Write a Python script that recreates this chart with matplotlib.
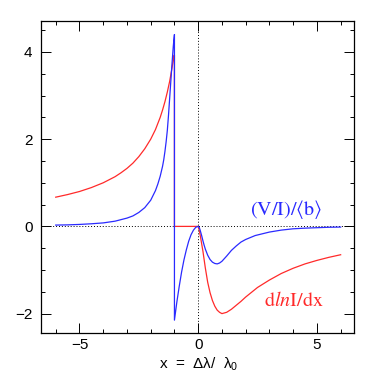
import matplotlib
matplotlib.use("Agg")
import matplotlib.pyplot as plt
from matplotlib.ticker import MultipleLocator

plt.rcParams['font.family'] = ['Liberation Sans', 'DejaVu Sans']
plt.rcParams['mathtext.fontset'] = 'stix'

# red curve: d ln I / dx
red_x = [-6.0, -5.5, -5.0, -4.5, -4.0, -3.5, -3.25, -3.0, -2.75, -2.5, -2.25, -2.0,
         -1.8, -1.6, -1.5, -1.4, -1.3, -1.2, -1.1, -1.05, -1.02, -1.0, -1.0,
         0.0, 0.05, 0.1, 0.2, 0.3, 0.4, 0.5, 0.6, 0.7, 0.8, 0.9, 1.0, 1.2, 1.4,
         1.6, 1.8, 2.0, 2.5, 3.0, 3.5, 4.0, 4.5, 5.0, 5.5, 6.0]
red_y = [0.67, 0.73, 0.80, 0.89, 1.0, 1.14, 1.23, 1.33, 1.45, 1.6, 1.78, 2.0,
         2.22, 2.5, 2.67, 2.86, 3.08, 3.33, 3.64, 3.81, 3.92, 3.93, 0.0,
         0.0, -0.1, -0.25, -0.57, -0.95, -1.28, -1.52, -1.70, -1.83, -1.92,
         -1.97, -2.0, -1.97, -1.90, -1.81, -1.72, -1.62, -1.40, -1.23, -1.08,
         -0.96, -0.86, -0.78, -0.71, -0.65]

# blue curve: (V/I)/<b>
blue_x = [-6.0, -5.5, -5.0, -4.5, -4.0, -3.5, -3.0, -2.75, -2.5, -2.25, -2.0, -1.8,
          -1.7, -1.6, -1.5, -1.45, -1.4, -1.35, -1.3, -1.25, -1.2, -1.15, -1.1,
          -1.05, -1.02, -1.0, -1.0,
          -0.9, -0.8, -0.7, -0.6, -0.5, -0.4, -0.3, -0.2, -0.1, 0.0,
          0.05, 0.1, 0.15, 0.2, 0.25, 0.3, 0.4, 0.5, 0.6, 0.7, 0.8, 0.9, 1.0,
          1.2, 1.4, 1.6, 1.8, 2.0, 2.4, 3.0, 3.5, 4.0, 4.5, 5.0, 5.5, 6.0]
blue_y = [0.03, 0.035, 0.045, 0.06, 0.08, 0.12, 0.19, 0.24, 0.32, 0.43, 0.6, 0.82,
          0.97, 1.15, 1.38, 1.53, 1.72, 1.94, 2.2, 2.55, 2.95, 3.35, 3.75,
          4.12, 4.3, 4.4, -2.15,
          -1.74, -1.38, -1.05, -0.77, -0.54, -0.34, -0.19, -0.086, -0.02, 0.0,
          -0.03, -0.12, -0.22, -0.33, -0.43, -0.52, -0.66, -0.76, -0.82, -0.85,
          -0.86, -0.84, -0.80, -0.68, -0.55, -0.45, -0.36, -0.30, -0.21, -0.13,
          -0.085, -0.055, -0.04, -0.03, -0.02, -0.015]

red = '#ff2a2a'
blue = '#2a2aff'

fig = plt.figure(figsize=(3.74, 3.74), dpi=100)
ax = fig.add_axes([0.109, 0.109, 0.838, 0.836])

ax.axhline(0, color='black', lw=0.7, ls=(0, (1, 2)))
ax.axvline(0, color='black', lw=0.7, ls=(0, (1, 2)))

ax.plot(red_x, red_y, color=red, lw=0.9)
ax.plot(blue_x, blue_y, color=blue, lw=0.9)

ax.text(3.7, 0.39, r'$\mathrm{(V/I)/}\langle\mathrm{b}\rangle$', color=blue,
        fontsize=14.5, ha='center', va='center')
ax.text(4.02, -1.69, r'$\mathrm{d}\mathit{ln}\mathrm{I/dx}$', color=red,
        fontsize=14.5, ha='center', va='center')

ax.set_xlim(-6.63, 6.57)
ax.set_ylim(-2.45, 4.72)
ax.xaxis.set_major_locator(MultipleLocator(5))
ax.xaxis.set_minor_locator(MultipleLocator(1))
ax.yaxis.set_major_locator(MultipleLocator(2))
ax.yaxis.set_minor_locator(MultipleLocator(0.5))
ax.tick_params(which='both', direction='in', top=True, right=True, width=0.7,
               labelsize=11)
ax.tick_params(axis='x', pad=3.5)
ax.tick_params(axis='y', pad=6)
ax.tick_params(which='major', length=7)
ax.tick_params(which='minor', length=3.2)
for s in ax.spines.values():
    s.set_linewidth(0.9)

fig.text(0.53, 0.004, 'x  =  Δλ/  λ$_\\mathregular{0}$', fontsize=11,
         ha='center', va='bottom')

fig.savefig('out.png', dpi=100)
